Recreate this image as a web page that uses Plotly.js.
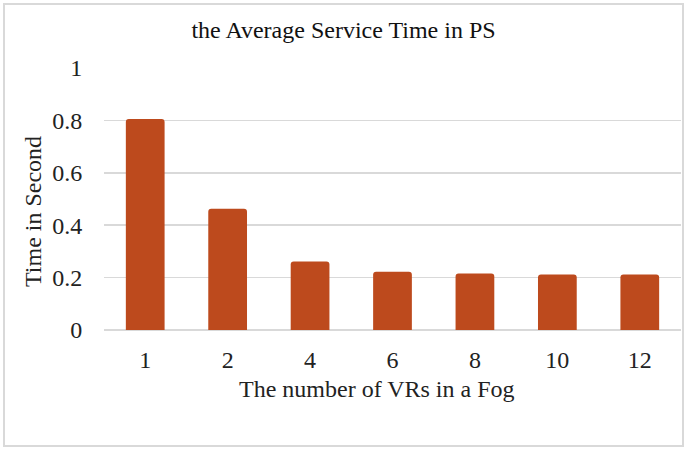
<!DOCTYPE html>
<html>
<head>
<meta charset="utf-8">
<script src="https://cdn.plot.ly/plotly-3.0.1.min.js"></script>
<style>
  html, body { margin: 0; padding: 0; background: #fff; }
  #wrap { position: relative; width: 687px; height: 450px; }
  #chart { width: 687px; height: 450px; }
  #frame { position: absolute; left: 3px; top: 3px; width: 677px; height: 440px;
           border: 2px solid #d9d9d9; pointer-events: none; }
</style>
</head>
<body>
<div id="wrap">
  <div id="chart"></div>
  <div id="frame"></div>
</div>
<script>
const categories = ['1', '2', '4', '6', '8', '10', '12'];
const serviceTime = [0.805, 0.463, 0.261, 0.222, 0.216, 0.212, 0.212];
const yTicks = [0, 0.2, 0.4, 0.6, 0.8, 1];
const yTickLabels = ['0', '0.2', '0.4', '0.6', '0.8', '1'];
const chartTitle = 'the Average Service Time in PS';
const xTitle = 'The number of VRs in a Fog';
const yTitle = 'Time in Second';

const font = 'Liberation Serif';
const fs = 24;

const trace = {
  type: 'bar',
  x: categories,
  y: serviceTime,
  marker: { color: '#BD4A1D', cornerradius: 3, line: { width: 0 } },
  hoverinfo: 'x+y'
};

const layout = {
  width: 687,
  height: 450,
  margin: { l: 104, r: 6, t: 68, b: 120 },
  paper_bgcolor: '#ffffff',
  plot_bgcolor: '#ffffff',
  showlegend: false,
  bargap: 0.53,
  title: {
    text: chartTitle,
    font: { family: font, size: fs, color: '#111' },
    x: 0.5, xref: 'container', xanchor: 'center',
    y: 0.935, yanchor: 'middle'
  },
  xaxis: {
    type: 'category',
    tickfont: { family: font, size: fs, color: '#222' },
    ticks: 'outside', ticklen: 8, tickcolor: 'rgba(0,0,0,0)',
    showline: false, showgrid: false, zeroline: false
  },
  yaxis: {
    range: [0, 1],
    tickvals: yTicks,
    ticktext: yTickLabels,
    tickfont: { family: font, size: fs, color: '#222' },
    ticks: 'outside', ticklen: 16, tickcolor: 'rgba(0,0,0,0)',
    showgrid: true, gridcolor: '#d9d9d9', gridwidth: 1.5,
    zeroline: true, zerolinecolor: '#d9d9d9', zerolinewidth: 1.5,
    showline: false
  },
  annotations: [
    {
      text: xTitle, xref: 'paper', yref: 'paper',
      x: (377 - 104) / 577, y: -(389 - 330) / 262,
      xanchor: 'center', yanchor: 'middle', showarrow: false,
      font: { family: font, size: fs, color: '#222' }
    },
    {
      text: yTitle, xref: 'paper', yref: 'paper', textangle: -90,
      x: -(104 - 33) / 577, y: (330 - 212) / 262,
      xanchor: 'center', yanchor: 'middle', showarrow: false,
      font: { family: font, size: fs, color: '#222' }
    }
  ]
};

Plotly.newPlot('chart', [trace], layout, { displayModeBar: false, staticPlot: true });
</script>
</body>
</html>
